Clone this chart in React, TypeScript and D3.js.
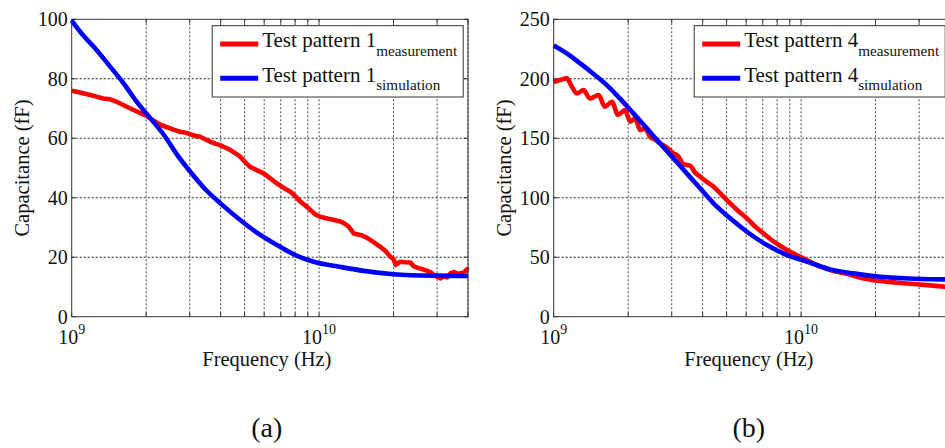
import React from "react";
import * as d3 from "d3";

// Frequency in GHz, capacitance in fF
const meas1: [number, number][] = [
  [1.0, 76.0], [1.05, 75.6], [1.11, 75.1], [1.18, 74.6], [1.26, 74.0], [1.34, 73.4],
  [1.43, 73.1], [1.5, 72.5], [1.57, 71.7], [1.67, 70.6], [1.78, 69.5], [1.9, 68.4],
  [2.01, 67.5], [2.1, 66.4], [2.21, 65.2], [2.32, 64.3], [2.43, 63.7], [2.58, 62.9],
  [2.74, 62.2], [2.87, 61.9], [3.01, 61.4], [3.15, 60.8], [3.31, 60.5], [3.47, 59.6],
  [3.63, 58.9], [3.8, 58.2], [3.98, 57.7], [4.17, 56.9], [4.37, 56.1], [4.58, 55.0],
  [4.8, 53.8], [5.02, 52.0], [5.26, 50.4], [5.6, 49.3], [5.97, 48.2], [6.35, 46.5],
  [6.76, 44.8], [7.2, 43.3], [7.66, 42.0], [8.02, 40.5], [8.4, 38.7], [8.8, 37.4],
  [9.22, 35.9], [9.7, 34.3], [10.1, 33.6], [10.8, 33.0], [11.5, 32.5], [12.1, 32.1],
  [12.6, 31.5], [13.2, 30.2], [13.8, 28.0], [14.7, 27.5], [15.6, 26.6], [16.6, 25.1],
  [17.7, 23.5], [18.6, 22.0], [19.4, 20.2], [20.0, 19.4], [20.4, 17.4], [21.3, 18.5],
  [22.3, 18.3], [23.4, 18.2], [24.1, 17.0], [24.9, 16.5], [26.1, 16.0], [27.4, 15.4],
  [28.3, 14.9], [29.1, 14.0], [30.1, 13.4], [31.0, 12.9], [32.0, 13.6], [33.0, 13.2],
  [34.0, 14.6], [35.1, 15.0], [36.2, 14.5], [37.3, 14.6], [38.5, 14.8], [39.7, 16.0],
  [40.0, 15.7],
];

const sim1: [number, number][] = [
  [1.0, 99.6], [1.11, 94.7], [1.26, 89.7], [1.43, 84.1], [1.62, 78.5], [1.83, 72.3],
  [2.08, 66.7], [2.36, 61.1], [2.67, 54.4], [3.01, 48.8], [3.49, 42.6], [4.06, 37.6],
  [4.8, 32.5], [5.53, 28.6], [6.76, 24.1], [8.02, 20.7], [9.51, 18.5], [12.1, 16.8],
  [14.9, 15.5], [20.0, 14.3], [29.1, 13.8], [40.0, 13.7],
];

const meas4: [number, number][] = [
  [1.0, 197.0], [1.01, 197.5], [1.06, 199.0], [1.13, 200.3], [1.18, 194.0], [1.24, 187.7],
  [1.32, 190.5], [1.4, 183.5], [1.52, 186.3], [1.61, 176.5], [1.72, 180.7], [1.82, 169.5],
  [1.94, 173.7], [2.04, 163.9], [2.13, 166.7], [2.24, 156.9], [2.34, 158.3], [2.45, 151.3],
  [2.56, 149.0], [2.69, 145.7], [2.85, 142.5], [3.05, 137.3], [3.2, 134.5], [3.33, 128.5],
  [3.45, 127.5], [3.56, 127.0], [3.72, 121.5], [3.91, 117.7], [4.15, 113.5], [4.43, 109.3],
  [4.8, 102.0], [5.17, 95.3], [5.6, 88.5], [6.04, 82.7], [6.5, 76.0], [7.06, 70.0],
  [7.6, 64.5], [8.25, 59.4], [9.05, 54.5], [9.94, 50.4], [11.2, 44.8], [13.1, 39.2],
  [15.4, 35.9], [17.9, 32.2], [20.9, 30.0], [24.5, 28.6], [28.6, 27.5], [33.4, 26.3],
  [38.4, 25.2], [40.0, 25.0],
];

const sim4: [number, number][] = [
  [1.0, 228.0], [1.13, 221.3], [1.28, 212.9], [1.45, 204.0], [1.64, 194.7], [1.85, 183.5],
  [2.1, 170.9], [2.38, 158.3], [2.69, 145.7], [3.05, 133.1], [3.45, 120.5], [3.91, 107.9],
  [4.43, 95.3], [5.17, 82.7], [6.04, 71.4], [7.28, 60.2], [8.78, 51.8], [10.6, 46.2],
  [13.1, 39.8], [16.3, 36.4], [20.9, 33.6], [28.6, 31.9], [38.4, 31.4], [40.0, 31.4],
];

const ticks1 = [0, 20, 40, 60, 80, 100];
const ticks4 = [0, 50, 100, 150, 200, 250];
const decades = [9, 10];
const gridFreqs = [2, 3, 4, 5, 6, 7, 8, 9, 10, 20, 30, 40];

const FONT = "Liberation Serif";
const RED = "#ff0000";
const BLUE = "#0000ff";
const FRAME = "#333";
const INK = "#111";

type PanelProps = {
  left: number;
  yMax: number;
  yTicks: number[];
  meas: [number, number][];
  sim: [number, number][];
  measCurve: d3.CurveFactory;
  pattern: string;
  tag: string;
};

function Panel({ left, yMax, yTicks, meas, sim, measCurve, pattern, tag }: PanelProps) {
  const top = 19.3;
  const bottom = 316.7;
  const width = 396.3;
  const right = left + width;
  const x = d3.scaleLog().domain([1e9, 4e10]).range([left, right]);
  const y = d3.scaleLinear().domain([0, yMax]).range([bottom, top]);
  const simPath =
    d3
      .line<[number, number]>()
      .x((d) => x(d[0] * 1e9))
      .y((d) => y(d[1]))
      .curve(d3.curveMonotoneX)(sim) || "";
  const measPath =
    d3
      .line<[number, number]>()
      .x((d) => x(d[0] * 1e9))
      .y((d) => y(d[1]))
      .curve(measCurve)(meas) || "";
  const tickLen = 4;
  const legX = left + 140.5;
  const legTop = 25.7;
  const cx = (left + right) / 2;
  return (
    <g>
      <rect x={left} y={top} width={width} height={bottom - top} fill="#fff" />
      {/* grid */}
      {gridFreqs.map((g) => (
        <line
          key={"vg" + g}
          x1={x(g * 1e9)}
          x2={x(g * 1e9)}
          y1={top}
          y2={bottom}
          stroke="#444"
          strokeWidth={1}
          strokeDasharray="2,2"
        />
      ))}
      {yTicks.slice(1, -1).map((t) => (
        <line
          key={"hg" + t}
          x1={left}
          x2={right}
          y1={y(t)}
          y2={y(t)}
          stroke="#222"
          strokeWidth={1}
          strokeDasharray="2,2"
        />
      ))}
      {/* tick marks */}
      {[1, ...gridFreqs].map((g) => (
        <g key={"xt" + g}>
          <line x1={x(g * 1e9)} x2={x(g * 1e9)} y1={bottom} y2={bottom - tickLen} stroke={FRAME} />
          <line x1={x(g * 1e9)} x2={x(g * 1e9)} y1={top} y2={top + tickLen} stroke={FRAME} />
        </g>
      ))}
      {yTicks.map((t) => (
        <g key={"yt" + t}>
          <line x1={left} x2={left + tickLen} y1={y(t)} y2={y(t)} stroke={FRAME} />
          <line x1={right} x2={right - tickLen} y1={y(t)} y2={y(t)} stroke={FRAME} />
        </g>
      ))}
      {/* curves */}
      <path d={measPath} fill="none" stroke={RED} strokeWidth={4.6} strokeLinejoin="round" />
      <path d={simPath} fill="none" stroke={BLUE} strokeWidth={4.6} strokeLinejoin="round" />
      {/* frame */}
      <rect x={left} y={top} width={width} height={bottom - top} fill="none" stroke={FRAME} strokeWidth={1} />
      {/* y tick labels */}
      {yTicks.map((t) => (
        <text
          key={"yl" + t}
          x={left - 4}
          y={y(t)}
          dy="0.35em"
          textAnchor="end"
          fontSize={20}
          fontFamily={FONT}
          fill={INK}
        >
          {t}
        </text>
      ))}
      {/* x tick labels */}
      {decades.map((e) => (
        <text
          key={"xl" + e}
          x={x(Math.pow(10, e))}
          y={344}
          textAnchor="middle"
          fontSize={20}
          fontFamily={FONT}
          fill={INK}
        >
          10
          <tspan dy={-10} fontSize={14}>
            {e}
          </tspan>
        </text>
      ))}
      <text x={cx - 3} y={366} textAnchor="middle" fontSize={20.5} fontFamily={FONT} fill={INK}>
        Frequency (Hz)
      </text>
      <text
        transform={`translate(${left - 50},${(top + bottom) / 2}) rotate(-90)`}
        textAnchor="middle"
        dy="0.35em"
        fontSize={20.5}
        fontFamily={FONT}
        fill={INK}
      >
        Capacitance (fF)
      </text>
      {/* legend */}
      <rect x={legX} y={legTop} width={251} height={71.3} fill="#fff" stroke={FRAME} strokeWidth={1} />
      <line x1={legX + 8} x2={legX + 46} y1={44} y2={44} stroke={RED} strokeWidth={5} />
      <line x1={legX + 8} x2={legX + 46} y1={78.3} y2={78.3} stroke={BLUE} strokeWidth={5} />
      <text x={legX + 50} y={46.5} fontSize={21} fontFamily={FONT} fill={INK}>
        {`Test pattern ${pattern}`}
        <tspan dy={9.5} fontSize={15.2}>measurement</tspan>
      </text>
      <text x={legX + 50} y={81.5} fontSize={21} fontFamily={FONT} fill={INK}>
        {`Test pattern ${pattern}`}
        <tspan dy={8.5} fontSize={15.2}>simulation</tspan>
      </text>
      <text x={cx - 3} y={437} textAnchor="middle" fontSize={28} fontFamily={FONT} fill={INK}>
        {tag}
      </text>
    </g>
  );
}

export default function App() {
  return (
    <svg
      width={945}
      height={448}
      style={{ position: "absolute", left: 0, top: 0, background: "#fff" }}
    >
      <rect width={945} height={448} fill="#fff" />
      <Panel
        left={71.7}
        yMax={100}
        yTicks={ticks1}
        meas={meas1}
        sim={sim1}
        measCurve={d3.curveLinear}
        pattern="1"
        tag="(a)"
      />
      <Panel
        left={553.7}
        yMax={250}
        yTicks={ticks4}
        meas={meas4}
        sim={sim4}
        measCurve={d3.curveMonotoneX}
        pattern="4"
        tag="(b)"
      />
    </svg>
  );
}
